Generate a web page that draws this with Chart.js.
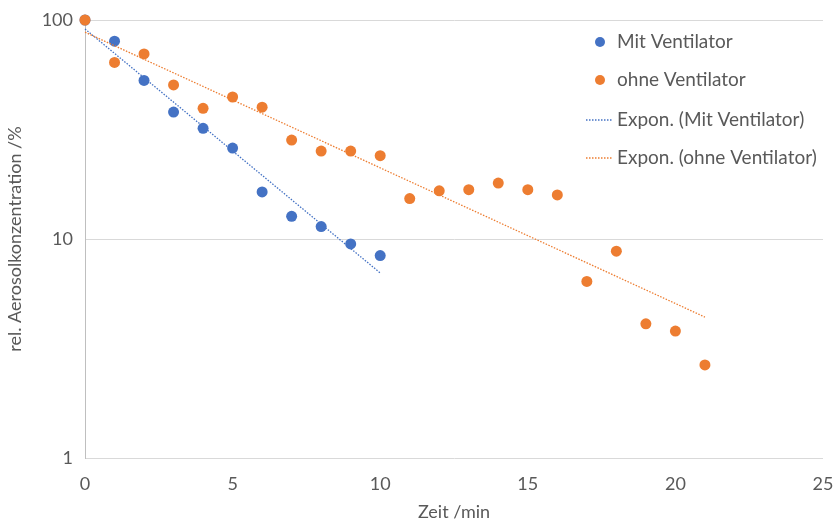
<!DOCTYPE html>
<html><head><meta charset="utf-8">
<script src="https://cdn.jsdelivr.net/npm/chart.js@4/dist/chart.umd.min.js"></script>
<style>html,body{margin:0;padding:0;background:#fff}#wrap{width:838px;height:527px}</style>
</head><body><div id="wrap"><canvas id="c" width="838" height="527"></canvas></div>
<script>
const timesMit = [0,1,2,3,4,5,6,7,8,9,10];
const valuesMit = [100,80,53,38,32,26,16.4,12.7,11.4,9.5,8.4];
const timesOhne = [0,1,2,3,4,5,6,7,8,9,10,11,12,13,14,15,16,17,18,19,20,21];
const valuesOhne = [100,64,70,50.5,39.5,44.5,40,28.3,25.2,25.2,24,15.3,16.6,16.8,18,16.8,15.9,6.4,8.8,4.1,3.8,2.66];
const trendMitX = [0,10];
const trendMitY = [91,7.0];
const trendOhneX = [0,21];
const trendOhneY = [88,4.4];
const xTicks = [0,5,10,15,20,25];
const yTicks = [1,10,100];
const labels = ['Mit Ventilator','ohne Ventilator','Expon. (Mit Ventilator)','Expon. (ohne Ventilator)'];
const BLUE = '#4472C4', ORANGE = '#ED7D31', TXT = '#595959';
const FONT = 'Lato, "Open Sans", sans-serif';

const pts = (xs, ys) => xs.map((x,i)=>({x:x,y:ys[i]}));

const legendPlugin = {
  id:'customLegend',
  afterDraw(chart){
    const ctx = chart.ctx;
    ctx.save();
    ctx.font = '19px ' + FONT;
    ctx.textBaseline = 'middle';
    const ys = [42,80,120,158];
    const ds = chart.data.datasets;
    const order = [1,3,0,2];
    ys.forEach((y,i)=>{
      const d = ds[order[i]];
      if (i < 2) {
        ctx.beginPath(); ctx.fillStyle = d.backgroundColor;
        ctx.arc(600, y, 5, 0, Math.PI*2); ctx.fill();
      } else {
        ctx.beginPath(); ctx.strokeStyle = d.borderColor; ctx.lineWidth = 1.5;
        ctx.setLineDash([1.5,1.5]); ctx.moveTo(586,y); ctx.lineTo(613,y); ctx.stroke(); ctx.setLineDash([]);
      }
      ctx.fillStyle = TXT;
      ctx.fillText(d.label, 617, y);
    });
    ctx.restore();
  }
};

new Chart(document.getElementById('c'), {
  type:'scatter',
  data:{datasets:[
    {label:labels[2], data:pts(trendMitX,trendMitY), showLine:true, borderColor:BLUE, borderWidth:1.3, borderDash:[1.5,1.5], pointRadius:0, order:3, clip:false},
    {label:labels[0], data:pts(timesMit,valuesMit), backgroundColor:BLUE, borderColor:BLUE, pointRadius:5.5, pointBorderWidth:0, order:2, clip:false},
    {label:labels[3], data:pts(trendOhneX,trendOhneY), showLine:true, borderColor:ORANGE, borderWidth:1.3, borderDash:[1.5,1.5], pointRadius:0, order:1, clip:false},
    {label:labels[1], data:pts(timesOhne,valuesOhne), backgroundColor:ORANGE, borderColor:ORANGE, pointRadius:5.5, pointBorderWidth:0, order:0, clip:false}
  ]},
  options:{
    responsive:false, animation:false,
    layout:{padding:{top:20,right:15,left:0,bottom:0}},
    plugins:{legend:{display:false}, tooltip:{enabled:false}},
    scales:{
      x:{type:'linear', min:0, max:25,
        afterBuildTicks(s){ s.ticks = xTicks.map(v=>({value:v})); },
        afterFit(s){ s.height = 69; s.paddingRight = 0; },
        grid:{display:false, drawTicks:false},
        border:{display:false},
        ticks:{color:TXT, font:{family:FONT,size:18}, padding:15},
        title:{display:true, text:'Zeit /min', color:TXT, font:{family:FONT,size:18}, padding:{top:0}}
      },
      y:{type:'logarithmic', min:1, max:100,
        afterBuildTicks(s){ s.ticks = yTicks.map(v=>({value:v})); },
        afterFit(s){ s.width = 85; s.paddingTop = 0; s.paddingBottom = 0; },
        grid:{color:'#d9d9d9', lineWidth:1, drawTicks:false},
        border:{display:true, color:'#bfbfbf'},
        ticks:{color:TXT, font:{family:FONT,size:18}, padding:12, callback:v=>String(v)},
        title:{display:true, text:'rel. Aerosolkonzentration /%', color:TXT, font:{family:FONT,size:18}, padding:{bottom:4}}
      }
    }
  },
  plugins:[legendPlugin]
});
</script></body></html>
